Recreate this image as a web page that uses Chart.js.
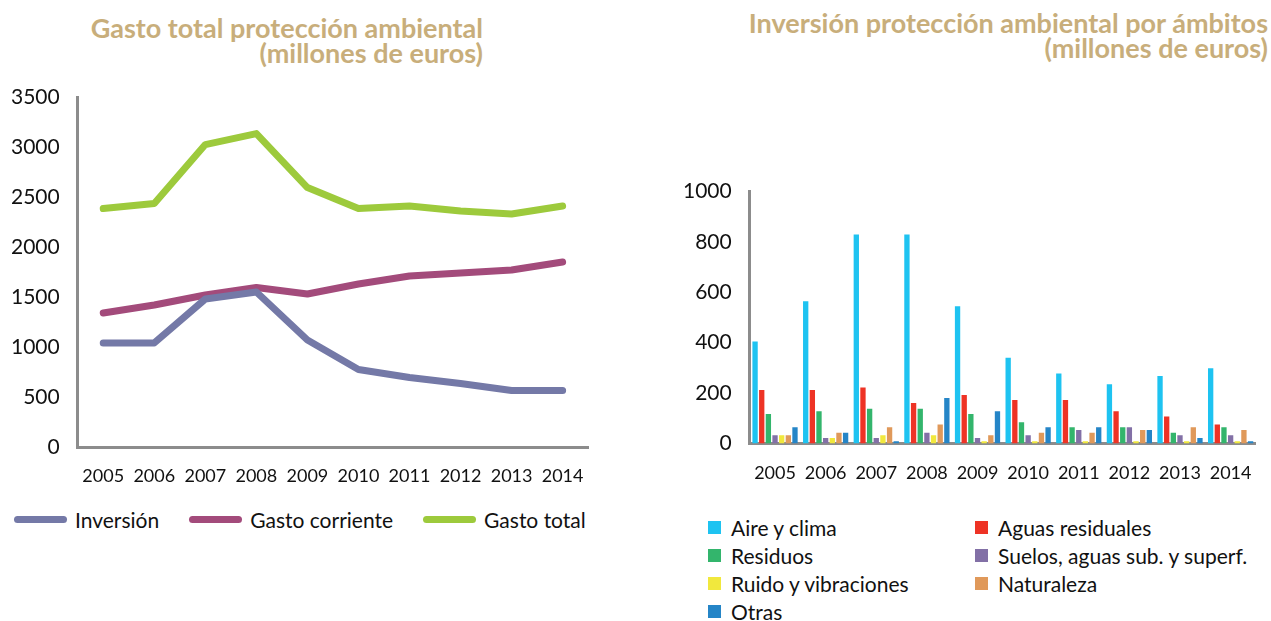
<!DOCTYPE html>
<html>
<head>
<meta charset="utf-8">
<script src="https://cdn.jsdelivr.net/npm/chart.js@4"></script>
<style>
  body { margin: 0; background: #fff; font-family: Lato, sans-serif; }
  #wrap { position: relative; width: 1271px; height: 621px; overflow: hidden; }
  .title { position: absolute; text-align: right; color: #c8ae7b; font-weight: bold; font-size: 27px; line-height: 25px; }
  #left-box { position: absolute; left: -7px; top: 67px; width: 609px; height: 438px; }
  #right-box { position: absolute; left: 665px; top: 161px; width: 606px; height: 342px; }
  #left-legend { position: absolute; left: 14px; top: 505px; display: flex; font-size: 21px; color: #111; }
  #left-legend div { display: flex; align-items: center; height: 28px; margin-right: 30px; }
  #left-legend span.sw { display: inline-block; width: 53px; height: 7px; border-radius: 4px; margin-right: 8px; }
  #right-legend { position: absolute; left: 708px; top: 513px; width: 560px; display: grid; grid-template-columns: 267px 290px; font-size: 21px; color: #111; }
  #right-legend div { display: flex; align-items: center; height: 28px; }
  #right-legend span.sw { display: inline-block; width: 13px; height: 13px; margin-right: 10px; }
</style>
</head>
<body>
<div id="wrap">
  <div class="title" style="left:0; width:483px; top:15px;">Gasto total protección ambiental<br>(millones de euros)</div>
  <div class="title" style="left:600px; width:668px; top:10px;">Inversión protección ambiental por ámbitos<br>(millones de euros)</div>
  <div id="left-box"><canvas id="left-chart"></canvas></div>
  <div id="right-box"><canvas id="right-chart"></canvas></div>
  <div id="left-legend"></div>
  <div id="right-legend"></div>
</div>
<script>
// Years shared by both charts
const years = ['2005', '2006', '2007', '2008', '2009', '2010', '2011', '2012', '2013', '2014'];

// Left chart: spending series
const inversion = [1045, 1045, 1485, 1555, 1075, 780, 700, 640, 570, 570];
const gastoCorriente = [1345, 1425, 1525, 1600, 1535, 1635, 1715, 1745, 1775, 1855];
const gastoTotal = [2390, 2440, 3030, 3140, 2600, 2390, 2415, 2365, 2335, 2415];

// Right chart: investment by area
const aireClima = [405, 565, 830, 830, 545, 340, 278, 235, 268, 298];
const aguasResiduales = [212, 212, 222, 160, 192, 172, 172, 128, 107, 75];
const residuos = [117, 128, 138, 138, 117, 84, 64, 64, 42, 64];
const suelos = [32, 21, 21, 42, 21, 32, 53, 64, 32, 32];
const ruido = [32, 21, 32, 32, 9, 9, 9, 9, 9, 9];
const naturaleza = [32, 42, 64, 75, 32, 42, 42, 53, 64, 53];
const otras = [64, 42, 9, 180, 128, 64, 64, 53, 21, 9];

const axisGray = '#8c8c8c';
const tickFont = { family: 'Lato', size: 21 };
const smallFont = { family: 'Lato', size: 18 };
const plainNumber = v => String(v);

// Line chart
const lineSeries = [
    ['Inversión', inversion, '#7479a7'],
    ['Gasto corriente', gastoCorriente, '#a34b7b'],
    ['Gasto total', gastoTotal, '#9dca3c']
];

new Chart(document.getElementById('left-chart'), {
    type: 'line',
    data: {
        labels: years,
        datasets: lineSeries.map(s => ({ label: s[0], data: s[1], borderColor: s[2], backgroundColor: s[2] }))
    },
    options: {
        responsive: true,
        maintainAspectRatio: false,
        animation: false,
        elements: { line: { borderWidth: 7, tension: 0, borderCapStyle: 'round', borderJoinStyle: 'round' }, point: { radius: 0 } },
        layout: { padding: { left: 0, right: 10, top: 5, bottom: 0 } },
        plugins: { legend: { display: false }, tooltip: { enabled: false } },
        scales: {
            x: {
                offset: true,
                grid: { display: false, drawTicks: false },
                border: { color: axisGray, width: 3 },
                ticks: { color: '#111', font: smallFont, padding: 18, maxRotation: 0, autoSkip: false }
            },
            y: {
                min: 0, max: 3500,
                grid: { display: false, drawTicks: false },
                border: { color: axisGray, width: 3 },
                ticks: { stepSize: 500, color: '#111', font: tickFont, padding: 18, callback: plainNumber }
            }
        }
    }
});

// Bar chart
const barSeries = [
    ['Aire y clima', aireClima, '#1ec3f1'],
    ['Aguas residuales', aguasResiduales, '#ee3325'],
    ['Residuos', residuos, '#33b56c'],
    ['Suelos, aguas sub. y superf.', suelos, '#8270a6'],
    ['Ruido y vibraciones', ruido, '#f1e83d'],
    ['Naturaleza', naturaleza, '#e0995a'],
    ['Otras', otras, '#2585c7']
];

new Chart(document.getElementById('right-chart'), {
    type: 'bar',
    data: {
        labels: years,
        datasets: barSeries.map(s => ({ label: s[0], data: s[1], backgroundColor: s[2] }))
    },
    options: {
        responsive: true,
        maintainAspectRatio: false,
        animation: false,
        datasets: { bar: { categoryPercentage: 0.92, barPercentage: 0.8 } },
        layout: { padding: { left: 0, right: 10, top: 5, bottom: 0 } },
        plugins: { legend: { display: false }, tooltip: { enabled: false } },
        scales: {
            x: {
                grid: { display: false, drawTicks: false },
                border: { color: axisGray, width: 3 },
                ticks: { color: '#111', font: smallFont, padding: 19, maxRotation: 0, autoSkip: false }
            },
            y: {
                min: 0, max: 1000,
                grid: { display: false, drawTicks: false },
                border: { color: axisGray, width: 3 },
                ticks: { stepSize: 200, color: '#111', font: tickFont, padding: 18, callback: plainNumber }
            }
        }
    }
});

// Legends built from the series lists
function buildLegend(boxId, series) {
    const box = document.getElementById(boxId);
    series.forEach(s => {
        const item = document.createElement('div');
        item.innerHTML = `<span class="sw" style="background:${s[2]}"></span>${s[0]}`;
        box.appendChild(item);
    });
}
buildLegend('left-legend', lineSeries);
buildLegend('right-legend', barSeries);
</script>
</body>
</html>
